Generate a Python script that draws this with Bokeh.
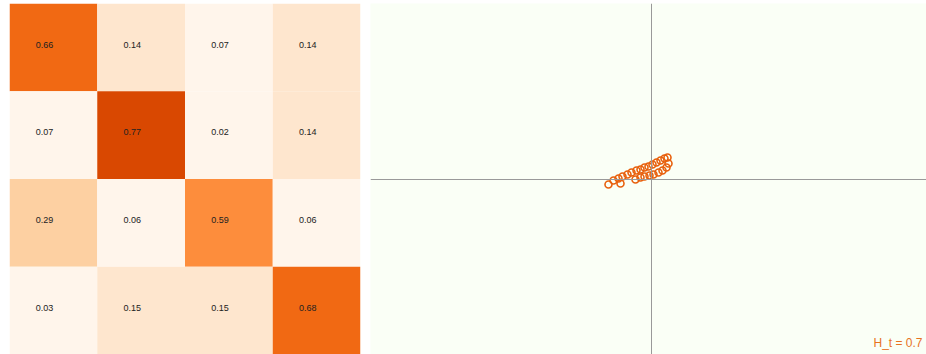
from bokeh.plotting import figure
from bokeh.layouts import row
from bokeh.models import ColumnDataSource, LinearColorMapper, Range1d, Span, Label
from bokeh.palettes import Oranges9
from bokeh.core.properties import value
from bokeh.embed import file_html
from bokeh.resources import INLINE

# ---- data ----
row0 = [0.66, 0.14, 0.07, 0.14]
row1 = [0.07, 0.77, 0.02, 0.14]
row2 = [0.29, 0.06, 0.59, 0.06]
row3 = [0.03, 0.15, 0.15, 0.68]
matrix = [row0, row1, row2, row3]

orbit_x = [-0.43, -0.38, -0.33, -0.29, -0.24, -0.20, -0.15, -0.11, -0.07, -0.03,
           0.01, 0.05, 0.09, 0.13, 0.16, 0.17, 0.15, 0.11, 0.07, 0.02,
           -0.02, -0.07, -0.11, -0.16, -0.31]
orbit_y = [-0.05, -0.01, 0.01, 0.03, 0.05, 0.07, 0.09, 0.10, 0.12, 0.13,
           0.15, 0.17, 0.19, 0.21, 0.22, 0.16, 0.12, 0.09, 0.07, 0.05,
           0.04, 0.03, 0.02, 0.00, -0.04]
label_text = "H_t = 0.7"

# ---- heatmap ----
xs, ys, vals, labels = [], [], [], []
for i, r in enumerate(matrix):
    for j, v in enumerate(r):
        xs.append(j)
        ys.append(i)
        vals.append(v)
        labels.append(f"{v:.2f}")
src = ColumnDataSource(dict(x=xs, y=ys, v=vals, t=labels,
                            tx=[x - 0.2 for x in xs], ty=[y - 0.03 for y in ys]))
mapper = LinearColorMapper(palette=list(reversed(Oranges9)), low=0, high=1.125)

p1 = figure(width=365, height=354, x_range=Range1d(-0.5, 3.5), y_range=Range1d(3.5, -0.5),
            output_backend="svg", toolbar_location=None,
            min_border_left=9, min_border_right=5, min_border_top=3, min_border_bottom=0)
p1.axis.visible = False
p1.grid.visible = False
p1.outline_line_color = None
p1.rect(x="x", y="y", width=1, height=1, source=src,
        fill_color={"field": "v", "transform": mapper}, line_color=None)
p1.text(x="tx", y="ty", text="t", source=src, text_font=value("Liberation Sans"),
        text_font_size="9px", text_color="#222222", text_baseline="middle", text_align="left")

# ---- orbit plot ----
p2 = figure(width=561, height=354, x_range=Range1d(-2.81, 2.75), y_range=Range1d(-1.75, 1.76),
            output_backend="svg", toolbar_location=None,
            min_border_left=5, min_border_right=0, min_border_top=3, min_border_bottom=0,
            background_fill_color="#fafff6")
p2.axis.visible = False
p2.grid.visible = False
p2.outline_line_color = None
p2.add_layout(Span(location=0, dimension="height", line_color="#999999", line_width=1))
p2.add_layout(Span(location=0, dimension="width", line_color="#999999", line_width=1))
p2.scatter(orbit_x, orbit_y, marker="circle", size=7, fill_color=None,
           line_color="#e8600d", line_width=1.6)
p2.add_layout(Label(x=552, y=5, x_units="screen", y_units="screen", text=label_text,
                    text_align="right", text_baseline="bottom",
                    text_font="Liberation Sans", text_font_size="12px",
                    text_color="#e8731f"))

layout = row(p1, p2)
open("out.html", "w").write(file_html(layout, INLINE))
